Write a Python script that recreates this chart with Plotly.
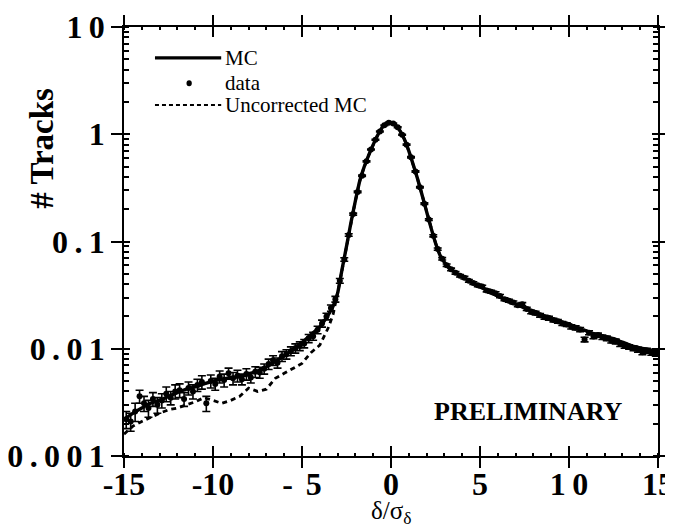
import plotly.graph_objects as go

# ---------------- data ----------------
mc_x = [-15, -14.5, -14, -13.5, -13, -12.5, -12, -11.5, -11, -10.5, -10, -9.5, -9, -8.5, -8,
        -7.5, -7, -6.5, -6, -5.5, -5, -4.5, -4, -3.5, -3.25, -3, -2.75, -2.5, -2.25, -2,
        -1.75, -1.5, -1.25, -1, -0.75, -0.5, -0.25, 0, 0.25, 0.5, 0.75, 1, 1.25, 1.5, 1.75,
        2, 2.25, 2.5, 2.75, 3, 3.5, 4, 4.5, 5, 5.5, 6, 6.5, 7, 7.5, 8, 8.5, 9, 9.5, 10,
        10.5, 11, 11.5, 12, 12.5, 13, 13.5, 14, 14.5, 15]
mc_y = [0.0022, 0.0025, 0.0028, 0.0031, 0.0033, 0.0036, 0.0039, 0.0042, 0.0044, 0.0047,
        0.0050, 0.0052, 0.0054, 0.0055, 0.0058, 0.0062, 0.0068, 0.0076, 0.0086, 0.0099,
        0.0114, 0.0135, 0.016, 0.021, 0.025, 0.033, 0.055, 0.09, 0.15, 0.24,
        0.37, 0.50, 0.64, 0.80, 0.98, 1.15, 1.27, 1.29, 1.22, 1.08, 0.90, 0.70, 0.52, 0.38, 0.27,
        0.19, 0.134, 0.097, 0.075, 0.064, 0.053, 0.047, 0.042, 0.038, 0.034, 0.031, 0.028,
        0.026, 0.024, 0.0225, 0.0205, 0.019, 0.018, 0.017, 0.0157, 0.0146, 0.0136, 0.013,
        0.0124, 0.0115, 0.0107, 0.0102, 0.0098, 0.0095]

unc_x = mc_x
unc_y = [0.0016, 0.0019, 0.0021, 0.0023, 0.0025, 0.0027, 0.0028, 0.0030, 0.0032, 0.0035,
         0.0033, 0.0031, 0.0033, 0.0036, 0.0043, 0.0040, 0.0042, 0.0053, 0.0059, 0.0066,
         0.0073, 0.0092, 0.0108, 0.016, 0.021, 0.033, 0.055, 0.09, 0.15, 0.24,
         0.37, 0.50, 0.64, 0.80, 0.98, 1.15, 1.27, 1.29, 1.22, 1.08, 0.90, 0.70, 0.52, 0.38, 0.27,
         0.19, 0.134, 0.097, 0.075, 0.064, 0.053, 0.047, 0.042, 0.038, 0.034, 0.031, 0.028,
         0.026, 0.024, 0.0225, 0.0205, 0.019, 0.018, 0.017, 0.0157, 0.0146, 0.0136, 0.013,
         0.0124, 0.0115, 0.0107, 0.0102, 0.0098, 0.0095]

data_x = [-14.875, -14.625, -14.375, -14.125, -13.875, -13.625, -13.375, -13.125, -12.875, -12.625,
          -12.375, -12.125, -11.875, -11.625, -11.375, -11.125, -10.875, -10.625, -10.375, -10.125,
          -9.875, -9.625, -9.375, -9.125, -8.875, -8.625, -8.375, -8.125, -7.875, -7.625,
          -7.375, -7.125, -6.875, -6.625, -6.375, -6.125, -5.875, -5.625, -5.375, -5.125,
          -4.875, -4.625, -4.375, -4.125, -3.875, -3.625, -3.375, -3.125, -2.875, -2.625,
          -2.375, -2.125, -1.875, -1.625, -1.375, -1.125, -0.875, -0.625, -0.375, -0.125,
          0.125, 0.375, 0.625, 0.875, 1.125, 1.375, 1.625, 1.875, 2.125, 2.375,
          2.625, 2.875, 3.125, 3.375, 3.625, 3.875, 4.125, 4.375, 4.625, 4.875,
          5.125, 5.375, 5.625, 5.875, 6.125, 6.375, 6.625, 6.875, 7.125, 7.375,
          7.625, 7.875, 8.125, 8.375, 8.625, 8.875, 9.125, 9.375, 9.625, 9.875,
          10.125, 10.375, 10.625, 10.875, 11.125, 11.375, 11.625, 11.875, 12.125, 12.375,
          12.625, 12.875, 13.125, 13.375, 13.625, 13.875, 14.125, 14.375, 14.625, 14.875]
data_y = [0.0022, 0.0021, 0.0026, 0.0036, 0.0031, 0.0028, 0.0034, 0.0030, 0.0033, 0.0038,
          0.0035, 0.0040, 0.0041, 0.0034, 0.0043, 0.0040, 0.0046, 0.0049, 0.0031, 0.0050,
          0.0047, 0.0055, 0.0051, 0.0059, 0.0053, 0.0056, 0.0052, 0.0058, 0.0054, 0.0061,
          0.0060, 0.0065, 0.0072, 0.0078, 0.0074, 0.0085, 0.0089, 0.0095, 0.0101, 0.0106,
          0.0112, 0.0125, 0.0131, 0.0150, 0.0172, 0.0200, 0.0240, 0.029, 0.043, 0.068,
          0.115, 0.18, 0.29, 0.41, 0.56, 0.72, 0.89, 1.06, 1.21, 1.28,
          1.26, 1.16, 0.99, 0.80, 0.61, 0.45, 0.32, 0.225, 0.16, 0.113,
          0.085, 0.069, 0.060, 0.055, 0.051, 0.048, 0.046, 0.043, 0.041, 0.039,
          0.038, 0.035, 0.034, 0.033, 0.031, 0.029, 0.028, 0.027, 0.0255, 0.026,
          0.0235, 0.022, 0.0215, 0.0205, 0.0197, 0.0193, 0.0185, 0.0180, 0.0172, 0.0168,
          0.0160, 0.0157, 0.0151, 0.0122, 0.0141, 0.0130, 0.0134, 0.0128, 0.0125, 0.0119,
          0.0117, 0.0111, 0.0106, 0.0104, 0.0101, 0.0098, 0.0093, 0.0096, 0.0092, 0.0090]
data_err = [0.0004, 0.0004, 0.0005, 0.0005, 0.0005, 0.0005, 0.0005, 0.0005, 0.0005, 0.0006,
            0.0005, 0.0006, 0.0006, 0.0005, 0.0006, 0.0006, 0.0006, 0.0007, 0.0005, 0.0007,
            0.0006, 0.0007, 0.0007, 0.0007, 0.0007, 0.0007, 0.0006, 0.0007, 0.0006, 0.0007,
            0.0007, 0.0007, 0.0008, 0.0008, 0.0008, 0.0009, 0.0009, 0.0009, 0.0010, 0.0010,
            0.0010, 0.0011, 0.0011, 0.0012, 0.0013, 0.0014, 0.0016, 0.0018, 0.0022, 0.0025,
            0.003, 0.004, 0.005, 0.006, 0.007, 0.008, 0.009, 0.01, 0.011, 0.011,
            0.011, 0.011, 0.01, 0.009, 0.008, 0.007, 0.005, 0.004, 0.003, 0.0025,
            0.002, 0.0018, 0.0016, 0.0015, 0.0014, 0.0013, 0.0013, 0.0012, 0.0012, 0.0011,
            0.0011, 0.0011, 0.0010, 0.0010, 0.0010, 0.0009, 0.0009, 0.0009, 0.0009, 0.0009,
            0.0008, 0.0008, 0.0008, 0.0008, 0.0008, 0.0008, 0.0007, 0.0007, 0.0007, 0.0007,
            0.0007, 0.0007, 0.0007, 0.0006, 0.0006, 0.0006, 0.0006, 0.0006, 0.0006, 0.0006,
            0.0006, 0.0006, 0.0005, 0.0005, 0.0005, 0.0005, 0.0005, 0.0005, 0.0005, 0.0005]

TS = "\u2009"  # thin space, the original labels are letter-spaced
x_tickvals = [-15, -10, -5, 0, 5, 10, 15]
x_ticktext = ["-15", "-10", "-" + TS + TS + "5", "0", "5", "1" + TS + "0", "15"]
y_tickvals = [0.001, 0.01, 0.1, 1, 10]
y_ticktext = [TS.join("0.001"), TS.join("0.01"), TS.join("0.1"), "1", TS.join("10")]

FONT = "Liberation Serif"

fig = go.Figure()
fig.add_trace(go.Scatter(x=unc_x, y=unc_y, mode="lines",
                         line=dict(color="black", width=2.8, dash="5px,4px"),
                         showlegend=False))
fig.add_trace(go.Scatter(x=data_x, y=data_y, mode="markers",
                         marker=dict(color="black", size=6),
                         error_y=dict(type="data", array=data_err, color="black",
                                      thickness=1.6, width=4),
                         showlegend=False))
fig.add_trace(go.Scatter(x=mc_x, y=mc_y, mode="lines",
                         line=dict(color="black", width=3.4, shape="spline", smoothing=0.6),
                         showlegend=False))
# empty trace to create the overlaid axes carrying inward ticks
fig.add_trace(go.Scatter(x=[], y=[], xaxis="x2", yaxis="y2", showlegend=False))

tickfont = dict(family=FONT, size=32, color="black", weight="bold")
fig.update_layout(
    template="none",
    width=673, height=529,
    margin=dict(l=116, r=23, t=19, b=81),
    paper_bgcolor="white", plot_bgcolor="white",
    showlegend=False,
    xaxis=dict(range=[-15, 15], tickvals=x_tickvals, ticktext=x_ticktext, automargin=False,
               ticks="outside", ticklen=10, tickwidth=1.5, tickcolor="black",
               ticklabelstandoff=-11,
               showline=True, linecolor="black", linewidth=1.5, mirror="ticks",
               showgrid=False, zeroline=False, tickfont=tickfont,
               minor=dict(dtick=1, ticks="inside", ticklen=3, tickcolor="black", showgrid=False)),
    yaxis=dict(type="log", range=[-3, 1], tickvals=y_tickvals, ticktext=y_ticktext,
               automargin=False,
               ticks="outside", ticklen=11, tickwidth=1.5, tickcolor="black",
               showline=True, linecolor="black", linewidth=1.5, mirror="ticks",
               showgrid=False, zeroline=False, tickfont=tickfont,
               minor=dict(ticks="inside", ticklen=5, tickcolor="black", dtick="D1", showgrid=False)),
    xaxis2=dict(range=[-15, 15], overlaying="x", tickvals=x_tickvals, showticklabels=False,
                automargin=False,
                ticks="inside", ticklen=10, tickwidth=1.5, tickcolor="black",
                showline=False, mirror="ticks", showgrid=False, zeroline=False),
    yaxis2=dict(type="log", range=[-3, 1], overlaying="y", tickvals=y_tickvals,
                automargin=False,
                showticklabels=False, ticks="inside", ticklen=6, tickwidth=1.5,
                tickcolor="black", showline=False, mirror="ticks", showgrid=False,
                zeroline=False),
)

# hand-made legend (upper left)
fig.add_shape(type="line", xref="paper", yref="paper", x0=0.058, x1=0.182, y0=0.928, y1=0.928,
              line=dict(color="black", width=3.4))
fig.add_shape(type="circle", xref="paper", yref="paper", x0=0.117, x1=0.127, y0=0.862, y1=0.876,
              fillcolor="black", line=dict(color="black", width=0))
fig.add_shape(type="line", xref="paper", yref="paper", x0=0.058, x1=0.182, y0=0.818, y1=0.818,
              line=dict(color="black", width=2, dash="4px,3px"))
legfont = dict(family=FONT, size=21, color="black")
for txt, yy in [("MC", 0.928), ("data", 0.869), ("Uncorrected MC", 0.818)]:
    fig.add_annotation(text=txt, xref="paper", yref="paper", x=0.186, y=yy,
                       xanchor="left", yanchor="middle", showarrow=False, font=legfont)

fig.add_annotation(text="PRELIMINARY", xref="paper", yref="paper", x=0.758, y=0.103,
                   xanchor="center", yanchor="middle", showarrow=False,
                   font=dict(family=FONT, size=26, color="black", weight="bold"))
fig.add_annotation(text="# Tracks", xref="paper", yref="paper", x=-0.154, y=0.718,
                   xanchor="center", yanchor="middle", textangle=-90, showarrow=False,
                   font=dict(family=FONT, size=33, color="black", weight="bold"))
fig.add_annotation(text="δ/σ<sub>δ</sub>", xref="paper", yref="paper", x=0.5, y=-0.131,
                   xanchor="center", yanchor="middle", showarrow=False,
                   font=dict(family=FONT, size=25, color="black"))

fig.write_html("out.html")
